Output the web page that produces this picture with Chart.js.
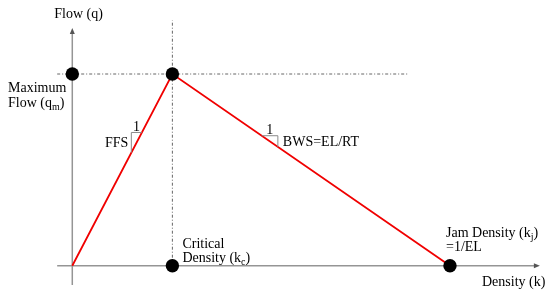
<!DOCTYPE html>
<html lang="en">
<head>
<meta charset="UTF-8">
<title>Flow - Density</title>
<script src="https://cdn.jsdelivr.net/npm/chart.js"></script>
<style>
    html, body { margin: 0; padding: 0; background: #fff; }
    #wrap { width: 550px; height: 296px; }
</style>
</head>
<body>
<div id="wrap"><canvas id="grafico" width="550" height="296"></canvas></div>
<script>
// values (density k, flow q)
const kc = 26.5;          // critical density
const kj = 100;           // jam density
const qm = 100;           // maximum flow
const curveK = [0, kc, kj];
const curveQ = [0, qm, 0];
const dotK = [0, kc, kc, kj];
const dotQ = [qm, qm, 0, 0];
const guideHK = [-4, 89];     // dotted line at q = qm
const guideVQ = [0, 128];     // dotted line at k = kc
const xRange = [-19.14, 126.48];
const yRange = [-15.8, 138.6];

const font = '14px "Liberation Serif", "Times New Roman", serif';
const subFont = '10px "Liberation Serif", "Times New Roman", serif';

function textParts(ctx, parts, x, y, align) {
    // parts: [text, isSub]
    let w = 0;
    parts.forEach(p => { ctx.font = p[1] ? subFont : font; w += ctx.measureText(p[0]).width; });
    let cx = align === 'right' ? x - w : (align === 'center' ? x - w / 2 : x);
    parts.forEach(p => {
        ctx.font = p[1] ? subFont : font;
        ctx.fillText(p[0], cx, p[1] ? y + 3 : y);
        cx += ctx.measureText(p[0]).width;
    });
}

const axesPlugin = {
    id: 'axes',
    beforeDatasetsDraw(chart) {
        const ctx = chart.ctx;
        const xs = chart.scales.x, ys = chart.scales.y;
        const x0 = xs.getPixelForValue(0), y0 = ys.getPixelForValue(0);
        const xEnd = xs.getPixelForValue(123.8), yEnd = ys.getPixelForValue(124);
        ctx.save();
        ctx.strokeStyle = '#959595';
        ctx.fillStyle = '#555';
        ctx.lineWidth = 1.5;
        ctx.beginPath();
        ctx.moveTo(xs.getPixelForValue(-4), y0);
        ctx.lineTo(xEnd - 3, y0);
        ctx.moveTo(x0, ys.getPixelForValue(-10));
        ctx.lineTo(x0, yEnd + 3);
        ctx.stroke();
        // arrow heads
        ctx.beginPath();
        ctx.moveTo(xEnd, y0);
        ctx.lineTo(xEnd - 6, y0 - 2.5);
        ctx.lineTo(xEnd - 6, y0 + 2.5);
        ctx.closePath();
        ctx.fill();
        ctx.beginPath();
        ctx.moveTo(x0, yEnd);
        ctx.lineTo(x0 - 2.5, yEnd + 6);
        ctx.lineTo(x0 + 2.5, yEnd + 6);
        ctx.closePath();
        ctx.fill();
        ctx.restore();
    },
    afterDraw(chart) {
        const ctx = chart.ctx;
        const xs = chart.scales.x, ys = chart.scales.y;
        const P = (k, q) => ({ x: xs.getPixelForValue(k), y: ys.getPixelForValue(q) });
        const lerp = (a, b, t) => ({ x: a.x + (b.x - a.x) * t, y: a.y + (b.y - a.y) * t });
        const o = P(0, 0), pk = P(kc, qm), jm = P(kj, 0);

        ctx.save();
        // slope triangles
        ctx.strokeStyle = '#8a8a8a';
        ctx.lineWidth = 1;
        const a1 = lerp(o, pk, 0.695), b1 = lerp(o, pk, 0.59);
        ctx.beginPath();
        ctx.moveTo(a1.x, a1.y); ctx.lineTo(b1.x, a1.y); ctx.lineTo(b1.x, b1.y);
        ctx.stroke();
        const a2 = lerp(pk, jm, 0.322), b2 = lerp(pk, jm, 0.38);
        ctx.beginPath();
        ctx.moveTo(a2.x, a2.y); ctx.lineTo(b2.x, a2.y); ctx.lineTo(b2.x, b2.y);
        ctx.stroke();

        ctx.fillStyle = '#000';
        ctx.textBaseline = 'alphabetic';
        textParts(ctx, [['1']], (a1.x + b1.x) / 2, a1.y - 1, 'center');
        textParts(ctx, [['FFS']], b1.x - 3, 147, 'right');
        textParts(ctx, [['1']], (a2.x + b2.x) / 2, a2.y - 2, 'center');
        textParts(ctx, [['BWS=EL/RT']], b2.x + 5, 146, 'left');

        textParts(ctx, [['Flow (q)']], o.x - 18, 18, 'left');
        textParts(ctx, [['Maximum']], 8, 92, 'left');
        textParts(ctx, [['Flow (q'], ['m', true], [')']], 8, 107, 'left');
        textParts(ctx, [['Critical']], pk.x + 10, 248, 'left');
        textParts(ctx, [['Density (k'], ['c', true], [')']], pk.x + 10, 262, 'left');
        textParts(ctx, [['Jam Density (k'], ['j', true], [')']], jm.x - 4, 237, 'left');
        textParts(ctx, [['=1/EL']], jm.x - 4, 251, 'left');
        textParts(ctx, [['Density (k)']], 482, 286, 'left');
        ctx.restore();
    }
};

const toXY = (ks, qs) => ks.map((k, i) => ({ x: k, y: qs[i] }));

// first dataset is drawn on top
new Chart(document.getElementById('grafico').getContext('2d'), {
    type: 'scatter',
    data: {
        datasets: [
            {
                label: 'points',
                data: toXY(dotK, dotQ),
                showLine: false, pointRadius: 6.7,
                pointBackgroundColor: '#000', pointBorderColor: '#000', pointBorderWidth: 0
            },
            {
                label: 'q-k',
                data: toXY(curveK, curveQ),
                showLine: true, borderColor: '#f00000', borderWidth: 1.8,
                pointRadius: 0, tension: 0
            },
            {
                label: 'guideH',
                data: [{ x: guideHK[0], y: qm }, { x: guideHK[1], y: qm }],
                showLine: true, borderColor: '#666', borderWidth: 1,
                borderDash: [3, 2, 1, 2], pointRadius: 0
            },
            {
                label: 'guideV',
                data: [{ x: kc, y: guideVQ[0] }, { x: kc, y: guideVQ[1] }],
                showLine: true, borderColor: '#666', borderWidth: 1,
                borderDash: [3, 2, 1, 2], pointRadius: 0
            }
        ]
    },
    options: {
        responsive: false,
        animation: false,
        layout: { padding: 0, autoPadding: false },
        plugins: { legend: { display: false }, tooltip: { enabled: false } },
        scales: {
            x: { type: 'linear', min: xRange[0], max: xRange[1], display: false },
            y: { type: 'linear', min: yRange[0], max: yRange[1], display: false }
        }
    },
    plugins: [axesPlugin]
});
</script>
</body>
</html>
